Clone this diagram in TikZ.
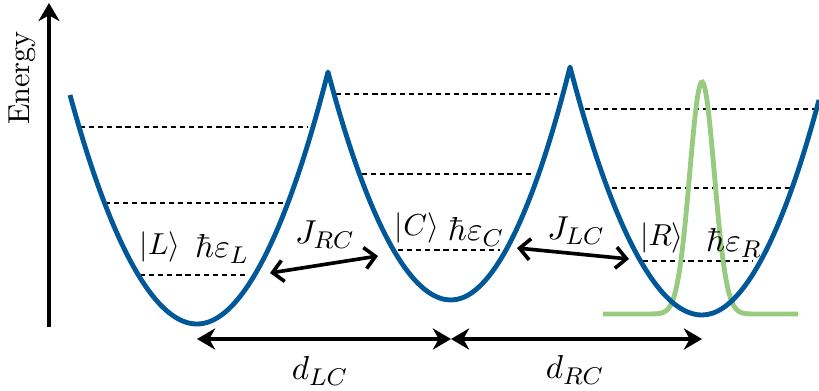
\documentclass[tikz,border=0pt]{standalone}
\usepackage{tikz}
\usetikzlibrary{arrows.meta,calc,positioning}
\definecolor{wellblue}{RGB}{0,88,152}
\definecolor{wavegreen}{RGB}{152,202,128}
\tikzset{pot/.style={draw=wellblue, line width=1.6pt, line join=round},
  lvl/.style={line width=0.8pt, dash pattern=on 1.7pt off 1.3pt},
  wave/.style={draw=wavegreen, line width=1.6pt},
  hop/.style={line width=1.2pt, {Straight Barb[length=3.5pt,width=7pt]}-{Straight Barb[length=3.5pt,width=7pt]}},
  dist/.style={line width=1.5pt, {Stealth[length=6pt,width=7pt]}-{Stealth[length=6pt,width=7pt]}},
  lab/.style={font=\fontsize{11}{13}\selectfont}}

\begin{document}
\begin{tikzpicture}[x=0.33pt, y=-0.33pt]
  \useasboundingbox (0,0) rectangle (819,390);
  % energy axis
  \coordinate (e0) at (49,327);
  \coordinate (e1) at (49,3);
  \draw[line width=1.5pt, -{Stealth[length=6pt,width=7pt]}] (e0) -- (e1);
  \node[rotate=90] (elab) at (22,78) {Energy};
  % levels in the three wells
  \foreach \xa/\xb/\yy in {80/308/127, 105/284/203, 140/246/275,
      336/557/94, 362/532/174, 398/500/250,
      585/815/109, 612/790/188, 643/753/261}{
    \draw[lvl] (\xa,\yy) -- (\xb,\yy);}
  % wave packet in the right well
  \draw[wave] plot[domain=603:798, samples=150] (\x,{314-232*exp(((\x-702)^2)/(-302.6))});
  % triple well potential
  \coordinate (mL) at (197,324);
  \coordinate (mC) at (451,300);
  \coordinate (mR) at (702,315);
  \coordinate (pLC) at (328,72);
  \coordinate (pCR) at (570,67);
  \draw[pot] (70,95) parabola bend (mL) (pLC) parabola bend (mC) (pCR)
    parabola bend (mR) (819,100);
  % states and energies
  \node (kL) at (160,247) {$|L\rangle$};
  \node[lab] (eL) at (222,249) {$\hbar\varepsilon_L$};
  \node (kC) at (417,228) {$|C\rangle$};
  \node[lab] (eC) at (476,232) {$\hbar\varepsilon_C$};
  \node (kR) at (662,238) {$|R\rangle$};
  \node[lab] (eR) at (734,243) {$\hbar\varepsilon_R$};
  % tunnelling
  \coordinate (h1) at (270,273);
  \coordinate (h2) at (378,256);
  \coordinate (h3) at (517,248);
  \coordinate (h4) at (629,259);
  \draw[hop] (h1) -- (h2);
  \draw[hop] (h3) -- (h4);
  \node[lab] (jRC) at (325,235) {$J_{RC}$};
  \node[lab] (jLC) at (576,231) {$J_{LC}$};
  % well distances
  \coordinate (dL) at (mL |- 0,339);
  \coordinate (dC) at (mC |- 0,339);
  \coordinate (dR) at (mR |- 0,339);
  \draw[dist] (dL) -- (dC);
  \draw[dist] (dC) -- (dR);
  \node[lab] (dLC) at (320,371) {$d_{LC}$};
  \node[lab] (dRC) at (575,370) {$d_{RC}$};
\end{tikzpicture}
\end{document}
